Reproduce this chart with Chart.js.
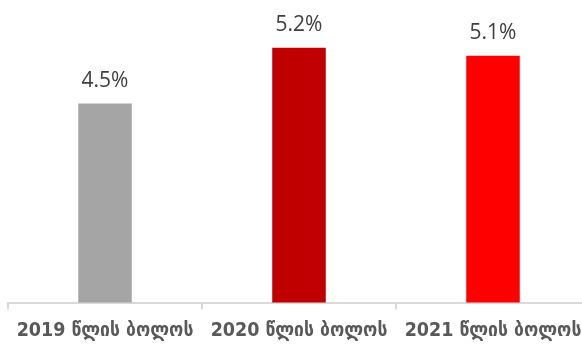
<!DOCTYPE html>
<html>
<head>
<meta charset="utf-8">
<script src="https://cdn.jsdelivr.net/npm/chart.js@4/dist/chart.umd.min.js"></script>
<style>
  html, body { margin: 0; padding: 0; background: #fff; overflow: hidden; }
  #wrap { width: 590px; height: 353px; position: relative; }
</style>
</head>
<body>
<div id="wrap"><canvas id="c"></canvas></div>
<script>
const categories = ['2019 წლის ბოლოს', '2020 წლის ბოლოს', '2021 წლის ბოლოს'];
const values = [4.5, 5.2, 5.1];
const barColors = ['#a5a5a5', '#c00000', '#ff0000'];

// values drawn above each bar
const valueLabels = {
  id: 'valueLabels',
  afterDatasetsDraw(chart) {
    const ctx = chart.ctx;
    const meta = chart.getDatasetMeta(0);
    ctx.save();
    ctx.font = '21px "Open Sans", sans-serif';
    ctx.fillStyle = '#404040';
    ctx.textAlign = 'center';
    ctx.textBaseline = 'bottom';
    meta.data.forEach((bar, i) => {
      ctx.fillText(values[i].toFixed(1) + '%', bar.x, bar.y - 12);
    });
    ctx.restore();
  }
};

new Chart(document.getElementById('c'), {
  type: 'bar',
  data: {
    labels: categories,
    datasets: [{
      data: values,
      backgroundColor: barColors,
      categoryPercentage: 1,
      barPercentage: 0.276
    }]
  },
  options: {
    responsive: true,
    maintainAspectRatio: false,
    animation: false,
    layout: { padding: { left: 8, right: 0, top: 0, bottom: 0 } },
    plugins: { legend: { display: false }, tooltip: { enabled: false } },
    scales: {
      y: { display: false, min: 2, max: 5.8 },
      x: {
        // labels may overhang the plot, like the original; don't shrink the plot for them
        afterFit(scale) {
          scale.paddingLeft = 0;
          scale.paddingRight = 0;
        },
        border: { color: '#d9d9d9', width: 2 },
        grid: { offset: true, drawOnChartArea: false, color: '#d9d9d9', lineWidth: 2, tickLength: 7 },
        ticks: {
          color: '#595959',
          padding: 10,
          maxRotation: 0,
          autoSkip: false,
          font: { family: '"DejaVu Sans Condensed", "DejaVu Sans", sans-serif', size: 19.5, weight: 'bold' }
        }
      }
    }
  },
  plugins: [valueLabels]
});
</script>
</body>
</html>
